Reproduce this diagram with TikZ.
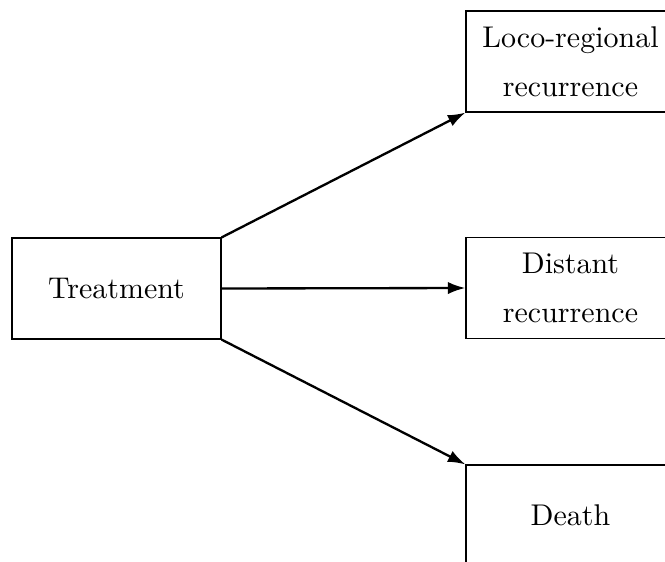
\documentclass[tikz,border=0pt]{standalone}
\usetikzlibrary{arrows.meta}
\begin{document}
\begin{tikzpicture}[x=0.3436pt,y=-0.3436pt,
  box/.style={draw, line width=0.4pt, minimum width=209*0.3436pt, minimum height=101*0.3436pt, inner sep=0pt, align=center, font=\fontsize{10.3}{16.8}\selectfont},
  conn/.style={thick, -{Latex[length=6pt,width=4.2pt]}}]
\useasboundingbox (0,0) rectangle (665,561);
\node[box] (treat) at (116.5,288.5) {Treatment};
\node[box] (loco) at (570.5,61.5) {Loco-regional\\recurrence};
\node[box] (dist) at (570.5,288) {Distant\\recurrence};
\node[box] (death) at (570.5,515.5) {Death};
\draw[conn] (treat.north east) -- (loco.south west);
\draw[conn] (treat.east) -- (dist.west);
\draw[conn] (treat.south east) -- (death.north west);
\end{tikzpicture}
\end{document}
